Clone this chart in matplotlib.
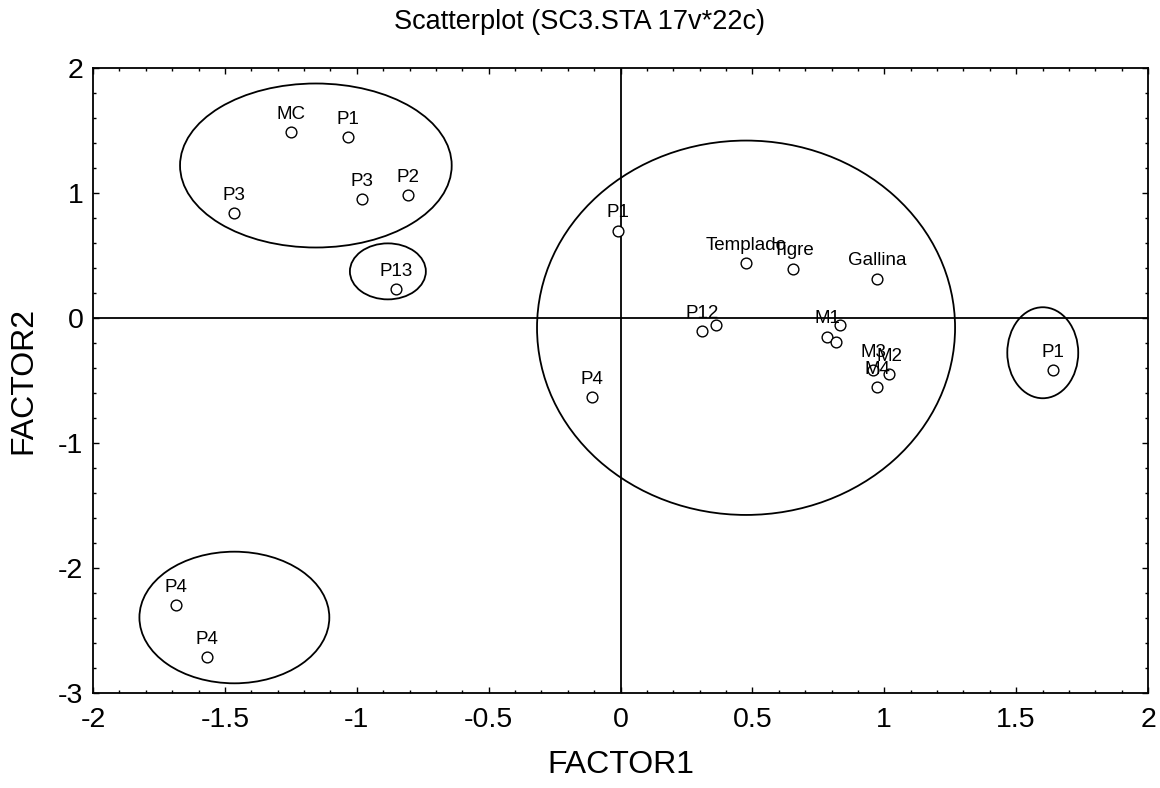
import matplotlib
matplotlib.use("Agg")
import matplotlib.pyplot as plt
from matplotlib.patches import Ellipse
from matplotlib.ticker import MultipleLocator, FuncFormatter

plt.rcParams['font.family'] = ['Liberation Sans', 'DejaVu Sans']

# Case labels and factor scores (22 cases)
labels = ['MC', 'P1', 'P3', 'P2', 'P3', 'P13', 'P1', 'Templado', 'Tigre', 'Gallina',
          'P12', '', 'M1', '', '', 'M3', 'M2', 'M4', 'P4', 'P1', 'P4', 'P4']
factor1 = [-1.250, -1.032, -0.981, -0.804, -1.465, -0.851, -0.009, 0.475, 0.655, 0.974,
           0.310, 0.362, 0.784, 0.834, 0.818, 0.959, 1.019, 0.974, -0.108, 1.641,
           -1.685, -1.567]
factor2 = [1.49, 1.45, 0.95, 0.984, 0.837, 0.229, 0.699, 0.437, 0.395, 0.315,
           -0.107, -0.056, -0.149, -0.056, -0.189, -0.416, -0.448, -0.555, -0.635, -0.416,
           -2.296, -2.715]

# Group ellipses: center x, center y, width, height
ell_cx = [-1.155, -0.882, 0.476, 1.601, -1.464]
ell_cy = [1.22, 0.373, -0.078, -0.278, -2.396]
ell_w = [1.030, 0.288, 1.585, 0.269, 0.720]
ell_h = [1.312, 0.448, 2.995, 0.728, 1.053]

fig = plt.figure(figsize=(11.6, 7.88), dpi=100)
ax = fig.add_axes([93 / 1160, 1 - 693 / 788, (1148 - 93) / 1160, (693 - 68) / 788])

ax.axhline(0, color='black', lw=1.3, zorder=1)
ax.axvline(0, color='black', lw=1.3, zorder=1)

for cx, cy, w, h in zip(ell_cx, ell_cy, ell_w, ell_h):
    ax.add_patch(Ellipse((cx, cy), w, h, fill=False, edgecolor='black', lw=1.3, zorder=2))

ax.scatter(factor1, factor2, s=60, facecolors='white', edgecolors='black', linewidths=1.0, zorder=3)

for lab, xv, yv in zip(labels, factor1, factor2):
    if lab:
        ax.annotate(lab, (xv, yv), xytext=(0, 9.5), textcoords='offset points',
                    ha='center', va='baseline', fontsize=13.5, zorder=4)

ax.set_xlim(-2, 2)
ax.set_ylim(-3, 2)
ax.xaxis.set_major_locator(MultipleLocator(0.5))
ax.xaxis.set_minor_locator(MultipleLocator(0.1))
ax.yaxis.set_major_locator(MultipleLocator(1))
ax.yaxis.set_minor_locator(MultipleLocator(0.2))
ax.xaxis.set_major_formatter(FuncFormatter(lambda v, p: '%g' % v))
ax.yaxis.set_major_formatter(FuncFormatter(lambda v, p: '%g' % v))

ax.tick_params(which='both', direction='in', top=True, right=True, width=1)
ax.tick_params(which='major', length=4.5, labelsize=20.5)
ax.tick_params(axis='x', which='major', pad=10)
ax.tick_params(axis='y', which='major', pad=7)
ax.tick_params(which='minor', length=2.5)
for sp in ax.spines.values():
    sp.set_linewidth(1.3)

ax.set_xlabel('FACTOR1', fontsize=23, labelpad=12)
ax.set_ylabel('FACTOR2', fontsize=23, labelpad=14)
fig.text(0.5, 1 - 22 / 788, 'Scatterplot (SC3.STA 17v*22c)', ha='center', va='center', fontsize=19.5)

fig.savefig('out.png', dpi=100)
